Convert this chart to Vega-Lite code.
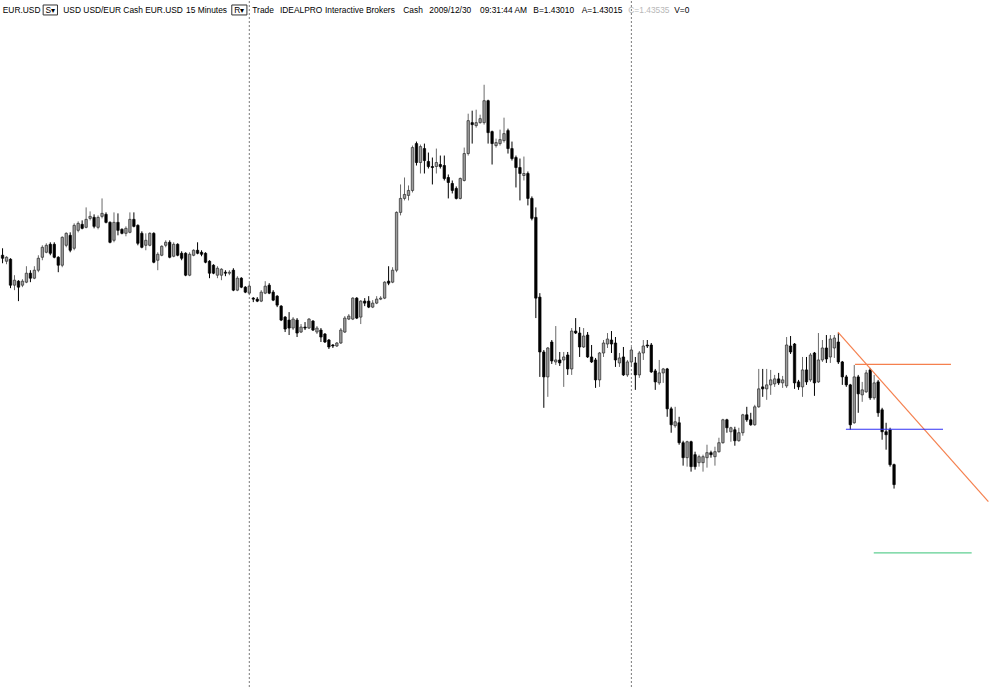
{
"$schema": "https://vega.github.io/schema/vega-lite/v6.json",
"width": 1000, "height": 690,
"autosize": {"type": "fit", "contains": "padding"},
"padding": 0,
"background": "white",
"config": {"view": {"stroke": null}, "scale": {"continuousPadding": 0}},
"resolve": {"scale": {"color": "independent"}},
"datasets": {
"candles": [
{"i":0,"o":1.4533,"h":1.4540,"l":1.4525,"c":1.4530},
{"i":1,"o":1.4527,"h":1.4532,"l":1.4524,"c":1.4531},
{"i":2,"o":1.4529,"h":1.4530,"l":1.4500,"c":1.4503},
{"i":3,"o":1.4503,"h":1.4513,"l":1.4498,"c":1.4508},
{"i":4,"o":1.4507,"h":1.4508,"l":1.4487,"c":1.4501},
{"i":5,"o":1.4503,"h":1.4509,"l":1.4501,"c":1.4507},
{"i":6,"o":1.4506,"h":1.4522,"l":1.4505,"c":1.4515},
{"i":7,"o":1.4515,"h":1.4518,"l":1.4506,"c":1.4510},
{"i":8,"o":1.4510,"h":1.4522,"l":1.4509,"c":1.4518},
{"i":9,"o":1.4518,"h":1.4533,"l":1.4516,"c":1.4530},
{"i":10,"o":1.4531,"h":1.4543,"l":1.4528,"c":1.4541},
{"i":11,"o":1.4536,"h":1.4545,"l":1.4535,"c":1.4543},
{"i":12,"o":1.4544,"h":1.4546,"l":1.4533,"c":1.4535},
{"i":13,"o":1.4544,"h":1.4546,"l":1.4530,"c":1.4531},
{"i":14,"o":1.4531,"h":1.4532,"l":1.4516,"c":1.4523},
{"i":15,"o":1.4523,"h":1.4552,"l":1.4521,"c":1.4551},
{"i":16,"o":1.4543,"h":1.4556,"l":1.4541,"c":1.4555},
{"i":17,"o":1.4553,"h":1.4556,"l":1.4536,"c":1.4538},
{"i":18,"o":1.4540,"h":1.4565,"l":1.4538,"c":1.4563},
{"i":19,"o":1.4558,"h":1.4567,"l":1.4556,"c":1.4565},
{"i":20,"o":1.4564,"h":1.4568,"l":1.4559,"c":1.4560},
{"i":21,"o":1.4561,"h":1.4581,"l":1.4560,"c":1.4569},
{"i":22,"o":1.4570,"h":1.4577,"l":1.4568,"c":1.4572},
{"i":23,"o":1.4571,"h":1.4574,"l":1.4560,"c":1.4562},
{"i":24,"o":1.4561,"h":1.4573,"l":1.4559,"c":1.4571},
{"i":25,"o":1.4572,"h":1.4590,"l":1.4570,"c":1.4575},
{"i":26,"o":1.4574,"h":1.4576,"l":1.4565,"c":1.4566},
{"i":27,"o":1.4566,"h":1.4567,"l":1.4545,"c":1.4546},
{"i":28,"o":1.4548,"h":1.4576,"l":1.4546,"c":1.4566},
{"i":29,"o":1.4566,"h":1.4575,"l":1.4553,"c":1.4558},
{"i":30,"o":1.4559,"h":1.4560,"l":1.4554,"c":1.4555},
{"i":31,"o":1.4555,"h":1.4562,"l":1.4552,"c":1.4560},
{"i":32,"o":1.4556,"h":1.4576,"l":1.4555,"c":1.4569},
{"i":33,"o":1.4569,"h":1.4576,"l":1.4561,"c":1.4562},
{"i":34,"o":1.4563,"h":1.4564,"l":1.4543,"c":1.4545},
{"i":35,"o":1.4555,"h":1.4557,"l":1.4540,"c":1.4541},
{"i":36,"o":1.4543,"h":1.4555,"l":1.4538,"c":1.4548},
{"i":37,"o":1.4543,"h":1.4556,"l":1.4542,"c":1.4555},
{"i":38,"o":1.4555,"h":1.4556,"l":1.4525,"c":1.4526},
{"i":39,"o":1.4528,"h":1.4536,"l":1.4518,"c":1.4534},
{"i":40,"o":1.4533,"h":1.4543,"l":1.4532,"c":1.4542},
{"i":41,"o":1.4543,"h":1.4548,"l":1.4541,"c":1.4546},
{"i":42,"o":1.4546,"h":1.4548,"l":1.4530,"c":1.4531},
{"i":43,"o":1.4532,"h":1.4546,"l":1.4531,"c":1.4544},
{"i":44,"o":1.4544,"h":1.4545,"l":1.4532,"c":1.4533},
{"i":45,"o":1.4535,"h":1.4537,"l":1.4528,"c":1.4530},
{"i":46,"o":1.4535,"h":1.4536,"l":1.4512,"c":1.4513},
{"i":47,"o":1.4513,"h":1.4536,"l":1.4512,"c":1.4534},
{"i":48,"o":1.4533,"h":1.4539,"l":1.4532,"c":1.4538},
{"i":49,"o":1.4538,"h":1.4546,"l":1.4534,"c":1.4535},
{"i":50,"o":1.4536,"h":1.4538,"l":1.4532,"c":1.4534},
{"i":51,"o":1.4535,"h":1.4536,"l":1.4525,"c":1.4526},
{"i":52,"o":1.4527,"h":1.4528,"l":1.4510,"c":1.4515},
{"i":53,"o":1.4523,"h":1.4524,"l":1.4514,"c":1.4515},
{"i":54,"o":1.4513,"h":1.4522,"l":1.4510,"c":1.4520},
{"i":55,"o":1.4513,"h":1.4520,"l":1.4508,"c":1.4519},
{"i":56,"o":1.4516,"h":1.4518,"l":1.4512,"c":1.4515},
{"i":57,"o":1.4515,"h":1.4518,"l":1.4513,"c":1.4516},
{"i":58,"o":1.4518,"h":1.4520,"l":1.4497,"c":1.4498},
{"i":59,"o":1.4498,"h":1.4512,"l":1.4497,"c":1.4510},
{"i":60,"o":1.4510,"h":1.4511,"l":1.4500,"c":1.4501},
{"i":61,"o":1.4501,"h":1.4502,"l":1.4495,"c":1.4496},
{"i":62,"o":1.4495,"h":1.4505,"l":1.4493,"c":1.4502},
{"i":63,"o":1.4490,"h":1.4491,"l":1.4486,"c":1.4489},
{"i":64,"o":1.4489,"h":1.4491,"l":1.4486,"c":1.4487},
{"i":65,"o":1.4487,"h":1.4498,"l":1.4486,"c":1.4496},
{"i":66,"o":1.4495,"h":1.4507,"l":1.4494,"c":1.4502},
{"i":67,"o":1.4503,"h":1.4505,"l":1.4494,"c":1.4495},
{"i":68,"o":1.4496,"h":1.4498,"l":1.4487,"c":1.4488},
{"i":69,"o":1.4492,"h":1.4493,"l":1.4481,"c":1.4483},
{"i":70,"o":1.4482,"h":1.4483,"l":1.4467,"c":1.4468},
{"i":71,"o":1.4471,"h":1.4472,"l":1.4456,"c":1.4459},
{"i":72,"o":1.4468,"h":1.4476,"l":1.4453,"c":1.4460},
{"i":73,"o":1.4460,"h":1.4471,"l":1.4458,"c":1.4469},
{"i":74,"o":1.4468,"h":1.4470,"l":1.4451,"c":1.4455},
{"i":75,"o":1.4456,"h":1.4464,"l":1.4455,"c":1.4461},
{"i":76,"o":1.4461,"h":1.4466,"l":1.4458,"c":1.4460},
{"i":77,"o":1.4460,"h":1.4470,"l":1.4459,"c":1.4469},
{"i":78,"o":1.4467,"h":1.4468,"l":1.4457,"c":1.4458},
{"i":79,"o":1.4456,"h":1.4462,"l":1.4454,"c":1.4460},
{"i":80,"o":1.4458,"h":1.4460,"l":1.4446,"c":1.4451},
{"i":81,"o":1.4454,"h":1.4455,"l":1.4445,"c":1.4446},
{"i":82,"o":1.4448,"h":1.4449,"l":1.4439,"c":1.4441},
{"i":83,"o":1.4443,"h":1.4444,"l":1.4440,"c":1.4442},
{"i":84,"o":1.4442,"h":1.4446,"l":1.4441,"c":1.4445},
{"i":85,"o":1.4445,"h":1.4460,"l":1.4444,"c":1.4458},
{"i":86,"o":1.4456,"h":1.4472,"l":1.4455,"c":1.4470},
{"i":87,"o":1.4469,"h":1.4474,"l":1.4468,"c":1.4472},
{"i":88,"o":1.4469,"h":1.4491,"l":1.4468,"c":1.4490},
{"i":89,"o":1.4490,"h":1.4491,"l":1.4469,"c":1.4470},
{"i":90,"o":1.4471,"h":1.4488,"l":1.4464,"c":1.4487},
{"i":91,"o":1.4487,"h":1.4490,"l":1.4482,"c":1.4485},
{"i":92,"o":1.4487,"h":1.4492,"l":1.4480,"c":1.4481},
{"i":93,"o":1.4481,"h":1.4488,"l":1.4480,"c":1.4485},
{"i":94,"o":1.4485,"h":1.4492,"l":1.4484,"c":1.4489},
{"i":95,"o":1.4489,"h":1.4492,"l":1.4488,"c":1.4490},
{"i":96,"o":1.4490,"h":1.4507,"l":1.4489,"c":1.4506},
{"i":97,"o":1.4507,"h":1.4522,"l":1.4503,"c":1.4505},
{"i":98,"o":1.4506,"h":1.4521,"l":1.4505,"c":1.4518},
{"i":99,"o":1.4518,"h":1.4577,"l":1.4516,"c":1.4576},
{"i":100,"o":1.4576,"h":1.4604,"l":1.4573,"c":1.4590},
{"i":101,"o":1.4590,"h":1.4611,"l":1.4588,"c":1.4594},
{"i":102,"o":1.4593,"h":1.4603,"l":1.4588,"c":1.4598},
{"i":103,"o":1.4598,"h":1.4643,"l":1.4596,"c":1.4641},
{"i":104,"o":1.4645,"h":1.4647,"l":1.4623,"c":1.4626},
{"i":105,"o":1.4626,"h":1.4644,"l":1.4615,"c":1.4642},
{"i":106,"o":1.4640,"h":1.4645,"l":1.4615,"c":1.4628},
{"i":107,"o":1.4627,"h":1.4636,"l":1.4620,"c":1.4622},
{"i":108,"o":1.4622,"h":1.4631,"l":1.4604,"c":1.4621},
{"i":109,"o":1.4622,"h":1.4640,"l":1.4615,"c":1.4626},
{"i":110,"o":1.4624,"h":1.4633,"l":1.4620,"c":1.4622},
{"i":111,"o":1.4623,"h":1.4633,"l":1.4608,"c":1.4610},
{"i":112,"o":1.4611,"h":1.4614,"l":1.4590,"c":1.4606},
{"i":113,"o":1.4605,"h":1.4608,"l":1.4595,"c":1.4598},
{"i":114,"o":1.4600,"h":1.4602,"l":1.4589,"c":1.4590},
{"i":115,"o":1.4590,"h":1.4611,"l":1.4589,"c":1.4610},
{"i":116,"o":1.4608,"h":1.4641,"l":1.4607,"c":1.4635},
{"i":117,"o":1.4635,"h":1.4675,"l":1.4633,"c":1.4668},
{"i":118,"o":1.4666,"h":1.4678,"l":1.4645,"c":1.4664},
{"i":119,"o":1.4663,"h":1.4679,"l":1.4661,"c":1.4666},
{"i":120,"o":1.4666,"h":1.4674,"l":1.4665,"c":1.4670},
{"i":121,"o":1.4666,"h":1.4704,"l":1.4664,"c":1.4688},
{"i":122,"o":1.4688,"h":1.4689,"l":1.4645,"c":1.4656},
{"i":123,"o":1.4657,"h":1.4658,"l":1.4624,"c":1.4645},
{"i":124,"o":1.4643,"h":1.4650,"l":1.4641,"c":1.4646},
{"i":125,"o":1.4645,"h":1.4659,"l":1.4643,"c":1.4649},
{"i":126,"o":1.4648,"h":1.4671,"l":1.4646,"c":1.4655},
{"i":127,"o":1.4658,"h":1.4660,"l":1.4635,"c":1.4640},
{"i":128,"o":1.4640,"h":1.4647,"l":1.4628,"c":1.4630},
{"i":129,"o":1.4631,"h":1.4633,"l":1.4601,"c":1.4621},
{"i":130,"o":1.4621,"h":1.4630,"l":1.4588,"c":1.4615},
{"i":131,"o":1.4613,"h":1.4632,"l":1.4608,"c":1.4615},
{"i":132,"o":1.4615,"h":1.4617,"l":1.4583,"c":1.4590},
{"i":133,"o":1.4590,"h":1.4592,"l":1.4568,"c":1.4570},
{"i":134,"o":1.4571,"h":1.4581,"l":1.4470,"c":1.4490},
{"i":135,"o":1.4491,"h":1.4495,"l":1.4411,"c":1.4436},
{"i":136,"o":1.4436,"h":1.4438,"l":1.4380,"c":1.4411},
{"i":137,"o":1.4411,"h":1.4441,"l":1.4391,"c":1.4440},
{"i":138,"o":1.4446,"h":1.4448,"l":1.4424,"c":1.4427},
{"i":139,"o":1.4426,"h":1.4462,"l":1.4423,"c":1.4428},
{"i":140,"o":1.4428,"h":1.4436,"l":1.4422,"c":1.4425},
{"i":141,"o":1.4428,"h":1.4436,"l":1.4401,"c":1.4431},
{"i":142,"o":1.4433,"h":1.4436,"l":1.4413,"c":1.4419},
{"i":143,"o":1.4419,"h":1.4460,"l":1.4413,"c":1.4457},
{"i":144,"o":1.4457,"h":1.4470,"l":1.4454,"c":1.4455},
{"i":145,"o":1.4455,"h":1.4461,"l":1.4431,"c":1.4441},
{"i":146,"o":1.4441,"h":1.4460,"l":1.4440,"c":1.4452},
{"i":147,"o":1.4453,"h":1.4456,"l":1.4430,"c":1.4431},
{"i":148,"o":1.4431,"h":1.4443,"l":1.4425,"c":1.4426},
{"i":149,"o":1.4428,"h":1.4430,"l":1.4400,"c":1.4408},
{"i":150,"o":1.4408,"h":1.4436,"l":1.4401,"c":1.4435},
{"i":151,"o":1.4435,"h":1.4448,"l":1.4431,"c":1.4445},
{"i":152,"o":1.4444,"h":1.4455,"l":1.4440,"c":1.4449},
{"i":153,"o":1.4448,"h":1.4457,"l":1.4435,"c":1.4444},
{"i":154,"o":1.4445,"h":1.4451,"l":1.4421,"c":1.4428},
{"i":155,"o":1.4425,"h":1.4435,"l":1.4421,"c":1.4430},
{"i":156,"o":1.4431,"h":1.4441,"l":1.4412,"c":1.4413},
{"i":157,"o":1.4413,"h":1.4428,"l":1.4411,"c":1.4426},
{"i":158,"o":1.4426,"h":1.4441,"l":1.4421,"c":1.4438},
{"i":159,"o":1.4425,"h":1.4431,"l":1.4398,"c":1.4413},
{"i":160,"o":1.4413,"h":1.4437,"l":1.4410,"c":1.4435},
{"i":161,"o":1.4435,"h":1.4448,"l":1.4428,"c":1.4442},
{"i":162,"o":1.4443,"h":1.4448,"l":1.4440,"c":1.4442},
{"i":163,"o":1.4443,"h":1.4445,"l":1.4415,"c":1.4416},
{"i":164,"o":1.4417,"h":1.4419,"l":1.4398,"c":1.4406},
{"i":165,"o":1.4405,"h":1.4428,"l":1.4403,"c":1.4415},
{"i":166,"o":1.4415,"h":1.4420,"l":1.4405,"c":1.4419},
{"i":167,"o":1.4419,"h":1.4420,"l":1.4371,"c":1.4379},
{"i":168,"o":1.4379,"h":1.4381,"l":1.4355,"c":1.4363},
{"i":169,"o":1.4362,"h":1.4381,"l":1.4360,"c":1.4366},
{"i":170,"o":1.4365,"h":1.4371,"l":1.4343,"c":1.4345},
{"i":171,"o":1.4345,"h":1.4347,"l":1.4322,"c":1.4330},
{"i":172,"o":1.4330,"h":1.4347,"l":1.4321,"c":1.4346},
{"i":173,"o":1.4346,"h":1.4347,"l":1.4316,"c":1.4321},
{"i":174,"o":1.4333,"h":1.4336,"l":1.4318,"c":1.4321},
{"i":175,"o":1.4325,"h":1.4333,"l":1.4321,"c":1.4331},
{"i":176,"o":1.4325,"h":1.4333,"l":1.4316,"c":1.4331},
{"i":177,"o":1.4330,"h":1.4343,"l":1.4320,"c":1.4335},
{"i":178,"o":1.4335,"h":1.4337,"l":1.4330,"c":1.4333},
{"i":179,"o":1.4331,"h":1.4341,"l":1.4322,"c":1.4336},
{"i":180,"o":1.4336,"h":1.4350,"l":1.4335,"c":1.4345},
{"i":181,"o":1.4345,"h":1.4369,"l":1.4344,"c":1.4368},
{"i":182,"o":1.4368,"h":1.4369,"l":1.4355,"c":1.4360},
{"i":183,"o":1.4356,"h":1.4361,"l":1.4346,"c":1.4360},
{"i":184,"o":1.4358,"h":1.4361,"l":1.4342,"c":1.4347},
{"i":185,"o":1.4347,"h":1.4360,"l":1.4346,"c":1.4355},
{"i":186,"o":1.4355,"h":1.4374,"l":1.4352,"c":1.4373},
{"i":187,"o":1.4373,"h":1.4381,"l":1.4366,"c":1.4368},
{"i":188,"o":1.4368,"h":1.4375,"l":1.4362,"c":1.4363},
{"i":189,"o":1.4363,"h":1.4383,"l":1.4362,"c":1.4381},
{"i":190,"o":1.4381,"h":1.4419,"l":1.4380,"c":1.4399},
{"i":191,"o":1.4401,"h":1.4419,"l":1.4391,"c":1.4399},
{"i":192,"o":1.4399,"h":1.4419,"l":1.4388,"c":1.4403},
{"i":193,"o":1.4403,"h":1.4418,"l":1.4393,"c":1.4408},
{"i":194,"o":1.4404,"h":1.4413,"l":1.4401,"c":1.4409},
{"i":195,"o":1.4409,"h":1.4415,"l":1.4403,"c":1.4405},
{"i":196,"o":1.4405,"h":1.4412,"l":1.4400,"c":1.4408},
{"i":197,"o":1.4402,"h":1.4451,"l":1.4400,"c":1.4443},
{"i":198,"o":1.4442,"h":1.4452,"l":1.4434,"c":1.4436},
{"i":199,"o":1.4444,"h":1.4445,"l":1.4399,"c":1.4405},
{"i":200,"o":1.4406,"h":1.4408,"l":1.4398,"c":1.4401},
{"i":201,"o":1.4401,"h":1.4431,"l":1.4391,"c":1.4418},
{"i":202,"o":1.4418,"h":1.4431,"l":1.4403,"c":1.4406},
{"i":203,"o":1.4408,"h":1.4435,"l":1.4406,"c":1.4433},
{"i":204,"o":1.4435,"h":1.4436,"l":1.4392,"c":1.4405},
{"i":205,"o":1.4406,"h":1.4455,"l":1.4405,"c":1.4428},
{"i":206,"o":1.4428,"h":1.4448,"l":1.4426,"c":1.4440},
{"i":207,"o":1.4440,"h":1.4453,"l":1.4425,"c":1.4429},
{"i":208,"o":1.4431,"h":1.4453,"l":1.4425,"c":1.4449},
{"i":209,"o":1.4440,"h":1.4453,"l":1.4430,"c":1.4450},
{"i":210,"o":1.4446,"h":1.4455,"l":1.4424,"c":1.4426},
{"i":211,"o":1.4426,"h":1.4427,"l":1.4403,"c":1.4411},
{"i":212,"o":1.4411,"h":1.4413,"l":1.4401,"c":1.4403},
{"i":213,"o":1.4403,"h":1.4404,"l":1.4358,"c":1.4363},
{"i":214,"o":1.4365,"h":1.4423,"l":1.4364,"c":1.4411},
{"i":215,"o":1.4411,"h":1.4413,"l":1.4375,"c":1.4394},
{"i":216,"o":1.4393,"h":1.4406,"l":1.4386,"c":1.4398},
{"i":217,"o":1.4396,"h":1.4418,"l":1.4395,"c":1.4415},
{"i":218,"o":1.4418,"h":1.4420,"l":1.4388,"c":1.4390},
{"i":219,"o":1.4390,"h":1.4413,"l":1.4388,"c":1.4405},
{"i":220,"o":1.4406,"h":1.4408,"l":1.4371,"c":1.4375},
{"i":221,"o":1.4378,"h":1.4380,"l":1.4348,"c":1.4356},
{"i":222,"o":1.4356,"h":1.4365,"l":1.4338,"c":1.4353},
{"i":223,"o":1.4358,"h":1.4360,"l":1.4321,"c":1.4323},
{"i":224,"o":1.4323,"h":1.4324,"l":1.4299,"c":1.4303}
],
"seps": [{"i": 62}, {"i": 158}],
"lines": [
{"name": "trend", "i": 209.9, "i2": 247.7, "p": 1.4456, "p2": 1.4286},
{"name": "resistance", "i": 214.2, "i2": 238.3, "p": 1.44235, "p2": 1.44235},
{"name": "support", "i": 211.9, "i2": 236.3, "p": 1.43585, "p2": 1.43585},
{"name": "target", "i": 218.9, "i2": 243.5, "p": 1.42345, "p2": 1.42345}
],
"boxes": [
{"t": "S▾", "i": 10.2, "i2": 13.8, "p": 1.4784, "p2": 1.4774, "m": 12.0},
{"t": "R▾", "i": 57.6, "i2": 61.4, "p": 1.4784, "p2": 1.4774, "m": 59.5}
],
"header": [
{"t": "EUR.USD", "i": 0.05, "tone": "main"},
{"t": "USD USD/EUR Cash EUR.USD", "i": 15.27, "tone": "main"},
{"t": "15 Minutes", "i": 46.1, "tone": "main"},
{"t": "Trade", "i": 62.75, "tone": "main"},
{"t": "IDEALPRO", "i": 69.71, "tone": "main"},
{"t": "Interactive Brokers", "i": 81.02, "tone": "main"},
{"t": "Cash", "i": 100.69, "tone": "main"},
{"t": "2009/12/30", "i": 107.23, "tone": "main"},
{"t": "09:31:44 AM", "i": 119.97, "tone": "main"},
{"t": "B=1.43010", "i": 133.36, "tone": "main"},
{"t": "A=1.43015", "i": 145.52, "tone": "main"},
{"t": "C=1.43535", "i": 157.23, "tone": "muted"},
{"t": "V=0", "i": 168.78, "tone": "main"}
]
},
"layer": [
{
"data": {"name": "seps"},
"mark": {"type": "rule", "strokeDash": [2, 2], "color": "#7a7a7a", "strokeWidth": 1},
"encoding": {
"x": {"field": "i", "type": "quantitative", "scale": {"domain": [-0.64, 250.62], "nice": false, "zero": false, "padding": 0}, "axis": null}
}
},
{
"data": {"name": "candles"},
"mark": {"type": "rule", "strokeWidth": 1},
"encoding": {
"x": {"field": "i", "type": "quantitative", "scale": {"domain": [-0.64, 250.62], "nice": false, "zero": false, "padding": 0}, "axis": null},
"y": {"field": "l", "type": "quantitative", "scale": {"domain": [1.4098, 1.4788], "nice": false, "zero": false, "padding": 0}, "axis": null},
"y2": {"field": "h"},
"color": {"condition": {"test": "datum.c >= datum.o", "value": "#6a6a6a"}, "value": "#000000"}
}
},
{
"data": {"name": "candles"},
"mark": {"type": "bar", "width": 2.4, "strokeWidth": 0.7},
"encoding": {
"x": {"field": "i", "type": "quantitative", "scale": {"domain": [-0.64, 250.62], "nice": false, "zero": false, "padding": 0}, "axis": null},
"y": {"field": "o", "type": "quantitative", "scale": {"domain": [1.4098, 1.4788], "nice": false, "zero": false, "padding": 0}, "axis": null},
"y2": {"field": "c"},
"fill": {"condition": {"test": "datum.c >= datum.o", "value": "#9e9e9e"}, "value": "#000000"},
"stroke": {"condition": {"test": "datum.c >= datum.o", "value": "#2a2a2a"}, "value": "#000000"}
}
},
{
"data": {"name": "lines"},
"mark": {"type": "rule", "strokeWidth": 1.2},
"encoding": {
"x": {"field": "i", "type": "quantitative", "scale": {"domain": [-0.64, 250.62], "nice": false, "zero": false, "padding": 0}, "axis": null},
"x2": {"field": "i2"},
"y": {"field": "p", "type": "quantitative", "scale": {"domain": [1.4098, 1.4788], "nice": false, "zero": false, "padding": 0}, "axis": null},
"y2": {"field": "p2"},
"color": {"field": "name", "type": "nominal", "scale": {"domain": ["trend", "resistance", "support", "target"], "range": ["#f5804e", "#f5804e", "#3030f5", "#5fcf92"]}, "legend": null}
}
},
{
"data": {"name": "boxes"},
"mark": {"type": "rect", "fill": "white", "stroke": "#333333", "strokeWidth": 1},
"encoding": {
"x": {"field": "i", "type": "quantitative", "scale": {"domain": [-0.64, 250.62], "nice": false, "zero": false, "padding": 0}, "axis": null},
"x2": {"field": "i2"},
"y": {"field": "p", "type": "quantitative", "scale": {"domain": [1.4098, 1.4788], "nice": false, "zero": false, "padding": 0}, "axis": null},
"y2": {"field": "p2"}
}
},
{
"data": {"name": "boxes"},
"mark": {"type": "text", "align": "center", "baseline": "alphabetic", "font": "Liberation Sans", "fontSize": 8.4, "color": "#000000"},
"encoding": {
"x": {"field": "m", "type": "quantitative", "scale": {"domain": [-0.64, 250.62], "nice": false, "zero": false, "padding": 0}, "axis": null},
"y": {"datum": 1.47757, "type": "quantitative", "scale": {"domain": [1.4098, 1.4788], "nice": false, "zero": false, "padding": 0}, "axis": null},
"text": {"field": "t"}
}
},
{
"data": {"name": "header"},
"mark": {"type": "text", "align": "left", "baseline": "alphabetic", "font": "Liberation Sans", "fontSize": 8.4},
"encoding": {
"x": {"field": "i", "type": "quantitative", "scale": {"domain": [-0.64, 250.62], "nice": false, "zero": false, "padding": 0}, "axis": null},
"y": {"datum": 1.47757, "type": "quantitative", "scale": {"domain": [1.4098, 1.4788], "nice": false, "zero": false, "padding": 0}, "axis": null},
"text": {"field": "t"},
"color": {"condition": {"test": "datum.tone == 'muted'", "value": "#b8b8b8"}, "value": "#000000"}
}
}
]
}
